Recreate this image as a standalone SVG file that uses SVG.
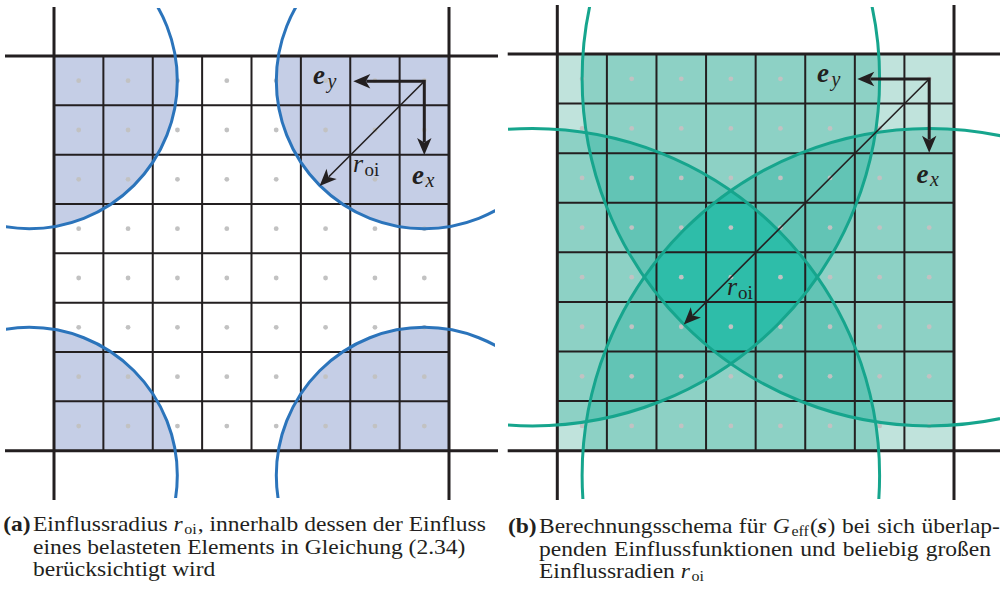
<svg xmlns="http://www.w3.org/2000/svg" xmlns:xlink="http://www.w3.org/1999/xlink" width="1000" height="590" viewBox="0 0 1000 590">
<style>
.g{stroke:#231f20;stroke-width:2;fill:none}
.f{stroke:#231f20;stroke-width:3;fill:none}
.d{fill:#c2c2c2}
.arcA{fill:none;stroke:#2b74bb;stroke-width:3}
.arcB{fill:none;stroke:#16a58d;stroke-width:3}
.ax{fill:none;stroke:#231f20;stroke-width:3;stroke-linejoin:miter}
.rl{fill:none;stroke:#231f20;stroke-width:1.6}
.ah{fill:#231f20}
.lb{font-family:"Liberation Serif",serif;fill:#231f20}
.cap{font-family:"Liberation Serif",serif;font-size:22px;fill:#231f20}
</style>
<defs>
<path id="ah" d="M0,0 L-17,-7.2 L-12.5,0 L-17,7.2 Z"/>
<clipPath id="gridA"><rect x="54" y="56" width="395" height="394.7"/></clipPath>
<clipPath id="boxA"><rect x="6" y="8" width="489" height="490"/></clipPath>
<clipPath id="gridB"><rect x="557.3" y="54" width="396.7" height="396.7"/></clipPath>
<clipPath id="boxB"><rect x="508" y="7" width="492" height="492"/></clipPath>
<clipPath id="cTL"><circle cx="532.5" cy="78.79" r="347.1"/></clipPath>
<clipPath id="cTR"><circle cx="929.21" cy="78.79" r="347.1"/></clipPath>
<clipPath id="cBL"><circle cx="532.5" cy="475.5" r="347.1"/></clipPath>
<clipPath id="cBR"><circle cx="929.21" cy="475.5" r="347.1"/></clipPath>
<rect id="rB" x="557.3" y="54" width="396.7" height="396.7"/>
</defs>

<g id="panelA">
 <g id="fillA" clip-path="url(#gridA)" fill="#c5cee6">
  <circle cx="29.31" cy="80.67" r="148"/>
  <circle cx="424.31" cy="80.67" r="148"/>
  <circle cx="29.31" cy="475.37" r="148"/>
  <circle cx="424.31" cy="475.37" r="148"/>
 </g>
 <g id="gridlinesA">
  <path class="g" d="M103.375,56V450.7M152.75,56V450.7M202.125,56V450.7M251.5,56V450.7M300.875,56V450.7M350.25,56V450.7M399.625,56V450.7
  M54,105.34H449M54,154.68H449M54,204.01H449M54,253.35H449M54,302.69H449M54,352.03H449M54,401.36H449"/>
  <path class="f" d="M5,56H498M5,450.7H498M54,7V500M449,7V500"/>
 </g>
 <g id="dotsA" class="d">
  <circle cx="78.69" cy="80.67" r="2.4"/><circle cx="128.06" cy="80.67" r="2.4"/><circle cx="177.44" cy="80.67" r="2.4"/><circle cx="226.81" cy="80.67" r="2.4"/><circle cx="276.19" cy="80.67" r="2.4"/><circle cx="325.56" cy="80.67" r="2.4"/><circle cx="374.94" cy="80.67" r="2.4"/><circle cx="424.31" cy="80.67" r="2.4"/>
  <circle cx="78.69" cy="130.01" r="2.4"/><circle cx="128.06" cy="130.01" r="2.4"/><circle cx="177.44" cy="130.01" r="2.4"/><circle cx="226.81" cy="130.01" r="2.4"/><circle cx="276.19" cy="130.01" r="2.4"/><circle cx="325.56" cy="130.01" r="2.4"/><circle cx="374.94" cy="130.01" r="2.4"/><circle cx="424.31" cy="130.01" r="2.4"/>
  <circle cx="78.69" cy="179.35" r="2.4"/><circle cx="128.06" cy="179.35" r="2.4"/><circle cx="177.44" cy="179.35" r="2.4"/><circle cx="226.81" cy="179.35" r="2.4"/><circle cx="276.19" cy="179.35" r="2.4"/><circle cx="325.56" cy="179.35" r="2.4"/><circle cx="374.94" cy="179.35" r="2.4"/><circle cx="424.31" cy="179.35" r="2.4"/>
  <circle cx="78.69" cy="228.68" r="2.4"/><circle cx="128.06" cy="228.68" r="2.4"/><circle cx="177.44" cy="228.68" r="2.4"/><circle cx="226.81" cy="228.68" r="2.4"/><circle cx="276.19" cy="228.68" r="2.4"/><circle cx="325.56" cy="228.68" r="2.4"/><circle cx="374.94" cy="228.68" r="2.4"/><circle cx="424.31" cy="228.68" r="2.4"/>
  <circle cx="78.69" cy="278.02" r="2.4"/><circle cx="128.06" cy="278.02" r="2.4"/><circle cx="177.44" cy="278.02" r="2.4"/><circle cx="226.81" cy="278.02" r="2.4"/><circle cx="276.19" cy="278.02" r="2.4"/><circle cx="325.56" cy="278.02" r="2.4"/><circle cx="374.94" cy="278.02" r="2.4"/><circle cx="424.31" cy="278.02" r="2.4"/>
  <circle cx="78.69" cy="327.36" r="2.4"/><circle cx="128.06" cy="327.36" r="2.4"/><circle cx="177.44" cy="327.36" r="2.4"/><circle cx="226.81" cy="327.36" r="2.4"/><circle cx="276.19" cy="327.36" r="2.4"/><circle cx="325.56" cy="327.36" r="2.4"/><circle cx="374.94" cy="327.36" r="2.4"/><circle cx="424.31" cy="327.36" r="2.4"/>
  <circle cx="78.69" cy="376.7" r="2.4"/><circle cx="128.06" cy="376.7" r="2.4"/><circle cx="177.44" cy="376.7" r="2.4"/><circle cx="226.81" cy="376.7" r="2.4"/><circle cx="276.19" cy="376.7" r="2.4"/><circle cx="325.56" cy="376.7" r="2.4"/><circle cx="374.94" cy="376.7" r="2.4"/><circle cx="424.31" cy="376.7" r="2.4"/>
  <circle cx="78.69" cy="426.03" r="2.4"/><circle cx="128.06" cy="426.03" r="2.4"/><circle cx="177.44" cy="426.03" r="2.4"/><circle cx="226.81" cy="426.03" r="2.4"/><circle cx="276.19" cy="426.03" r="2.4"/><circle cx="325.56" cy="426.03" r="2.4"/><circle cx="374.94" cy="426.03" r="2.4"/><circle cx="424.31" cy="426.03" r="2.4"/>
 </g>
 <g id="arcsA" clip-path="url(#boxA)">
  <circle class="arcA" cx="29.31" cy="80.67" r="148"/>
  <circle class="arcA" cx="424.31" cy="80.67" r="148"/>
  <circle class="arcA" cx="29.31" cy="475.37" r="148"/>
  <circle class="arcA" cx="424.31" cy="475.37" r="148"/>
 </g>
 <g id="arrowsA">
  <path class="ax" d="M366.3,81.2H424.3V142"/>
  <use href="#ah" class="ah" transform="translate(353.3,81.2) rotate(180)"/>
  <use href="#ah" class="ah" transform="translate(424.3,155) rotate(90)"/>
  <path class="rl" d="M424.3,81.2L328.8,176.7"/>
  <use href="#ah" class="ah" transform="translate(319.6,185.9) rotate(135)"/>
 </g>
 <g id="labelsA" class="lb">
  <text x="313" y="84" font-size="27" font-weight="bold" font-style="italic">e</text>
  <text x="327.5" y="88" font-size="20" font-style="italic">y</text>
  <text x="412" y="184" font-size="27" font-weight="bold" font-style="italic">e</text>
  <text x="425.5" y="187" font-size="20" font-style="italic">x</text>
  <text x="353" y="172" font-size="26" font-style="italic">r</text>
  <text x="364.5" y="176" font-size="19">oi</text>
 </g>
</g>

<g id="panelB">
 <g id="fillB" clip-path="url(#gridB)">
  <use href="#rB" fill="#c0e3dc"/>
  <g fill="#8dd1c5">
   <g clip-path="url(#cTL)"><g clip-path="url(#cTR)"><use href="#rB"/></g></g>
   <g clip-path="url(#cTL)"><g clip-path="url(#cBL)"><use href="#rB"/></g></g>
   <g clip-path="url(#cTL)"><g clip-path="url(#cBR)"><use href="#rB"/></g></g>
   <g clip-path="url(#cTR)"><g clip-path="url(#cBL)"><use href="#rB"/></g></g>
   <g clip-path="url(#cTR)"><g clip-path="url(#cBR)"><use href="#rB"/></g></g>
   <g clip-path="url(#cBL)"><g clip-path="url(#cBR)"><use href="#rB"/></g></g>
  </g>
  <g fill="#62c4b5">
   <g clip-path="url(#cTL)"><g clip-path="url(#cTR)"><g clip-path="url(#cBL)"><use href="#rB"/></g></g></g>
   <g clip-path="url(#cTL)"><g clip-path="url(#cTR)"><g clip-path="url(#cBR)"><use href="#rB"/></g></g></g>
   <g clip-path="url(#cTL)"><g clip-path="url(#cBL)"><g clip-path="url(#cBR)"><use href="#rB"/></g></g></g>
   <g clip-path="url(#cTR)"><g clip-path="url(#cBL)"><g clip-path="url(#cBR)"><use href="#rB"/></g></g></g>
  </g>
  <g fill="#2ebda9">
   <g clip-path="url(#cTL)"><g clip-path="url(#cTR)"><g clip-path="url(#cBL)"><g clip-path="url(#cBR)"><use href="#rB"/></g></g></g></g>
  </g>
 </g>
 <g id="gridlinesB">
  <path class="g" d="M606.89,54V450.7M656.48,54V450.7M706.06,54V450.7M755.65,54V450.7M805.24,54V450.7M854.83,54V450.7M904.41,54V450.7
  M557.3,103.59H954M557.3,153.18H954M557.3,202.76H954M557.3,252.35H954M557.3,301.94H954M557.3,351.53H954M557.3,401.11H954"/>
  <path class="f" d="M507.7,54H1000M507.7,450.7H1000M557.3,5V500M954,5V500"/>
 </g>
 <g id="dotsB" class="d">
  <circle cx="582.09" cy="78.79" r="2.4"/><circle cx="631.68" cy="78.79" r="2.4"/><circle cx="681.27" cy="78.79" r="2.4"/><circle cx="730.86" cy="78.79" r="2.4"/><circle cx="780.45" cy="78.79" r="2.4"/><circle cx="830.03" cy="78.79" r="2.4"/><circle cx="879.62" cy="78.79" r="2.4"/><circle cx="929.21" cy="78.79" r="2.4"/>
  <circle cx="582.09" cy="128.38" r="2.4"/><circle cx="631.68" cy="128.38" r="2.4"/><circle cx="681.27" cy="128.38" r="2.4"/><circle cx="730.86" cy="128.38" r="2.4"/><circle cx="780.45" cy="128.38" r="2.4"/><circle cx="830.03" cy="128.38" r="2.4"/><circle cx="879.62" cy="128.38" r="2.4"/><circle cx="929.21" cy="128.38" r="2.4"/>
  <circle cx="582.09" cy="177.97" r="2.4"/><circle cx="631.68" cy="177.97" r="2.4"/><circle cx="681.27" cy="177.97" r="2.4"/><circle cx="730.86" cy="177.97" r="2.4"/><circle cx="780.45" cy="177.97" r="2.4"/><circle cx="830.03" cy="177.97" r="2.4"/><circle cx="879.62" cy="177.97" r="2.4"/><circle cx="929.21" cy="177.97" r="2.4"/>
  <circle cx="582.09" cy="227.56" r="2.4"/><circle cx="631.68" cy="227.56" r="2.4"/><circle cx="681.27" cy="227.56" r="2.4"/><circle cx="730.86" cy="227.56" r="2.4"/><circle cx="780.45" cy="227.56" r="2.4"/><circle cx="830.03" cy="227.56" r="2.4"/><circle cx="879.62" cy="227.56" r="2.4"/><circle cx="929.21" cy="227.56" r="2.4"/>
  <circle cx="582.09" cy="277.15" r="2.4"/><circle cx="631.68" cy="277.15" r="2.4"/><circle cx="681.27" cy="277.15" r="2.4"/><circle cx="730.86" cy="277.15" r="2.4"/><circle cx="780.45" cy="277.15" r="2.4"/><circle cx="830.03" cy="277.15" r="2.4"/><circle cx="879.62" cy="277.15" r="2.4"/><circle cx="929.21" cy="277.15" r="2.4"/>
  <circle cx="582.09" cy="326.73" r="2.4"/><circle cx="631.68" cy="326.73" r="2.4"/><circle cx="681.27" cy="326.73" r="2.4"/><circle cx="730.86" cy="326.73" r="2.4"/><circle cx="780.45" cy="326.73" r="2.4"/><circle cx="830.03" cy="326.73" r="2.4"/><circle cx="879.62" cy="326.73" r="2.4"/><circle cx="929.21" cy="326.73" r="2.4"/>
  <circle cx="582.09" cy="376.32" r="2.4"/><circle cx="631.68" cy="376.32" r="2.4"/><circle cx="681.27" cy="376.32" r="2.4"/><circle cx="730.86" cy="376.32" r="2.4"/><circle cx="780.45" cy="376.32" r="2.4"/><circle cx="830.03" cy="376.32" r="2.4"/><circle cx="879.62" cy="376.32" r="2.4"/><circle cx="929.21" cy="376.32" r="2.4"/>
  <circle cx="582.09" cy="425.91" r="2.4"/><circle cx="631.68" cy="425.91" r="2.4"/><circle cx="681.27" cy="425.91" r="2.4"/><circle cx="730.86" cy="425.91" r="2.4"/><circle cx="780.45" cy="425.91" r="2.4"/><circle cx="830.03" cy="425.91" r="2.4"/><circle cx="879.62" cy="425.91" r="2.4"/><circle cx="929.21" cy="425.91" r="2.4"/>
 </g>
 <g id="arcsB" clip-path="url(#boxB)">
  <circle class="arcB" cx="532.5" cy="78.79" r="347.1"/>
  <circle class="arcB" cx="929.21" cy="78.79" r="347.1"/>
  <circle class="arcB" cx="532.5" cy="475.5" r="347.1"/>
  <circle class="arcB" cx="929.21" cy="475.5" r="347.1"/>
 </g>
 <g id="arrowsB">
  <path class="ax" d="M870.3,79H929.2V139.7"/>
  <use href="#ah" class="ah" transform="translate(857.3,79) rotate(180)"/>
  <use href="#ah" class="ah" transform="translate(929.2,152.7) rotate(90)"/>
  <path class="rl" d="M929.2,79L693,315.2"/>
  <use href="#ah" class="ah" transform="translate(683.8,324.4) rotate(135)"/>
 </g>
 <g id="labelsB" class="lb">
  <text x="817" y="82" font-size="27" font-weight="bold" font-style="italic">e</text>
  <text x="831.5" y="86" font-size="20" font-style="italic">y</text>
  <text x="916.5" y="183" font-size="27" font-weight="bold" font-style="italic">e</text>
  <text x="930" y="186" font-size="20" font-style="italic">x</text>
  <text x="727" y="295" font-size="26" font-style="italic">r</text>
  <text x="738" y="299" font-size="19">oi</text>
 </g>
</g>

<g id="captionA" class="cap" transform="matrix(1.07 0 0 1 -2.31 0)">
 <text x="5.2" y="531.5" font-weight="bold">(a)</text>
 <text x="33" y="531.5">Einflussradius <tspan font-style="italic">r</tspan><tspan font-size="15" dx="1.5" dy="3">oi</tspan><tspan dy="-3" dx="1">, innerhalb dessen der Einfluss</tspan></text>
 <text x="33" y="554">eines belasteten Elements in Gleichung (2.34)</text>
 <text x="33" y="576.5">berücksichtigt wird</text>
</g>
<g id="captionB" class="cap" transform="matrix(1.07 0 0 1 -37.73 0)">
 <text x="510" y="533.5" font-weight="bold">(b)</text>
 <text x="539" y="533.5" word-spacing="0.6">Berechnungsschema für <tspan font-style="italic">G</tspan><tspan font-size="15" dx="1.5" dy="3">eff</tspan><tspan dy="-3" dx="1">(</tspan><tspan font-weight="bold" font-style="italic">s</tspan><tspan dx="0.5">) bei sich überlap-</tspan></text>
 <text x="539" y="556" word-spacing="1.2">penden Einflussfunktionen und beliebig großen</text>
 <text x="539" y="578.5">Einflussradien <tspan font-style="italic">r</tspan><tspan font-size="15" dx="1.5" dy="3">oi</tspan></text>
</g>
</svg>
